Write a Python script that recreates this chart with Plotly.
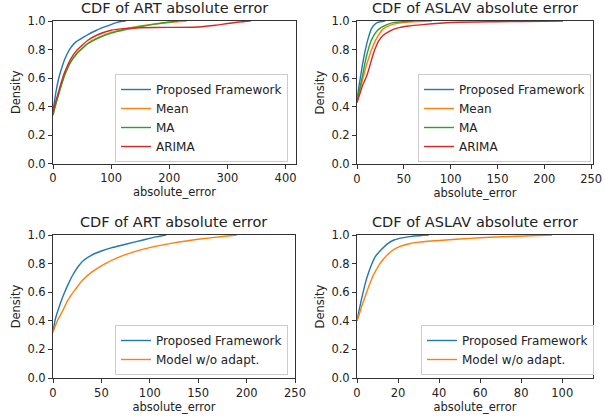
import plotly.graph_objects as go

# ---- data ----
# Top-left: CDF of ART absolute error
art_pf_x = [0, 5, 10, 15, 20, 30, 40, 50, 60, 75, 90, 100, 110, 120, 125]
art_pf_y = [0.37, 0.50, 0.60, 0.67, 0.73, 0.81, 0.855, 0.88, 0.905, 0.935, 0.96, 0.975, 0.99, 0.998, 1.0]
art_mean_x = [0, 5, 10, 15, 20, 30, 40, 50, 60, 75, 100, 125, 150, 175, 200, 230]
art_mean_y = [0.34, 0.42, 0.49, 0.56, 0.62, 0.71, 0.77, 0.81, 0.845, 0.88, 0.92, 0.945, 0.965, 0.98, 0.99, 1.0]
art_ma_x = [0, 5, 10, 15, 20, 30, 40, 50, 60, 75, 100, 125, 150, 175, 200, 215]
art_ma_y = [0.34, 0.42, 0.49, 0.56, 0.62, 0.71, 0.765, 0.805, 0.84, 0.875, 0.915, 0.94, 0.96, 0.978, 0.993, 1.0]
art_arima_x = [0, 5, 10, 15, 20, 30, 40, 50, 60, 75, 100, 125, 150, 200, 250, 280, 300, 320, 340]
art_arima_y = [0.36, 0.44, 0.51, 0.58, 0.64, 0.73, 0.79, 0.83, 0.865, 0.90, 0.935, 0.948, 0.953, 0.955, 0.958, 0.97, 0.982, 0.993, 1.0]

# Top-right: CDF of ASLAV absolute error
aslav_pf_x = [0, 1, 2, 3, 4, 6, 8, 10, 12, 15, 18, 22, 30]
aslav_pf_y = [0.43, 0.49, 0.54, 0.58, 0.62, 0.70, 0.77, 0.83, 0.88, 0.94, 0.97, 0.99, 1.0]
aslav_mean_x = [0, 2, 4, 6, 8, 10, 12, 15, 18, 22, 28, 35, 45, 60, 80]
aslav_mean_y = [0.43, 0.49, 0.54, 0.59, 0.64, 0.69, 0.73, 0.79, 0.84, 0.89, 0.945, 0.97, 0.985, 0.995, 1.0]
aslav_ma_x = [0, 2, 4, 6, 8, 10, 12, 15, 18, 22, 26, 32, 40, 60]
aslav_ma_y = [0.43, 0.50, 0.56, 0.62, 0.69, 0.75, 0.80, 0.86, 0.90, 0.935, 0.955, 0.975, 0.99, 1.0]
aslav_arima_x = [0, 2, 4, 6, 8, 10, 13, 16, 19, 23, 28, 35, 43, 55, 70, 100, 150, 200, 220]
aslav_arima_y = [0.43, 0.47, 0.51, 0.55, 0.58, 0.61, 0.67, 0.74, 0.80, 0.86, 0.90, 0.93, 0.95, 0.965, 0.975, 0.99, 0.995, 0.998, 1.0]

# Bottom-left: CDF of ART absolute error (ablation)
art2_pf_x = [0, 2, 5, 8, 12, 16, 20, 26, 32, 40, 50, 60, 75, 93, 105, 117]
art2_pf_y = [0.32, 0.40, 0.47, 0.53, 0.60, 0.66, 0.715, 0.78, 0.825, 0.86, 0.888, 0.91, 0.935, 0.965, 0.985, 1.0]
art2_noadapt_x = [0, 4.5, 10, 15, 21, 30, 40, 54, 70, 85, 100, 125, 150, 175, 190]
art2_noadapt_y = [0.32, 0.40, 0.47, 0.54, 0.60, 0.68, 0.74, 0.80, 0.85, 0.885, 0.912, 0.945, 0.97, 0.99, 1.0]

# Bottom-right: CDF of ASLAV absolute error (ablation)
aslav2_pf_x = [0, 1, 2, 3, 4, 5, 7, 9, 12, 15, 18, 22, 28, 35]
aslav2_pf_y = [0.40, 0.47, 0.54, 0.60, 0.66, 0.71, 0.79, 0.85, 0.90, 0.94, 0.965, 0.98, 0.993, 1.0]
aslav2_noadapt_x = [0, 1, 2, 3, 4.7, 6, 8, 11.2, 14, 17, 21, 25, 30, 40, 50, 60, 75, 95]
aslav2_noadapt_y = [0.40, 0.44, 0.49, 0.53, 0.60, 0.65, 0.72, 0.80, 0.85, 0.89, 0.92, 0.937, 0.95, 0.962, 0.972, 0.981, 0.99, 1.0]

titles = ["CDF of ART absolute error", "CDF of ASLAV absolute error",
          "CDF of ART absolute error", "CDF of ASLAV absolute error"]
x_ranges = [[0, 418], [0, 252], [0, 250], [0, 115]]
x_ticks = [[0, 100, 200, 300, 400], [0, 50, 100, 150, 200, 250],
           [0, 50, 100, 150, 200, 250], [0, 20, 40, 60, 80, 100]]
y_ticks = [0.0, 0.2, 0.4, 0.6, 0.8, 1.0]

C_BLUE, C_ORANGE, C_GREEN, C_RED = "#1f77b4", "#ff7f0e", "#2ca02c", "#d62728"

W, H = 605, 418
FONT = "DejaVu Sans, Liberation Sans, sans-serif"
TXT = "#222"

# panel pixel boxes (x0, x1, ytop, ybottom)
boxes = [(53, 296, 21, 163.5), (357, 593, 21, 164), (53, 295, 235, 378), (357, 593, 235, 378)]

fig = go.Figure()

panels = [
    [("Proposed Framework", art_pf_x, art_pf_y, C_BLUE),
     ("Mean", art_mean_x, art_mean_y, C_ORANGE),
     ("MA", art_ma_x, art_ma_y, C_GREEN),
     ("ARIMA", art_arima_x, art_arima_y, C_RED)],
    [("Proposed Framework", aslav_pf_x, aslav_pf_y, C_BLUE),
     ("Mean", aslav_mean_x, aslav_mean_y, C_ORANGE),
     ("MA", aslav_ma_x, aslav_ma_y, C_GREEN),
     ("ARIMA", aslav_arima_x, aslav_arima_y, C_RED)],
    [("Proposed Framework", art2_pf_x, art2_pf_y, C_BLUE),
     ("Model w/o adapt.", art2_noadapt_x, art2_noadapt_y, C_ORANGE)],
    [("Proposed Framework", aslav2_pf_x, aslav2_pf_y, C_BLUE),
     ("Model w/o adapt.", aslav2_noadapt_x, aslav2_noadapt_y, C_ORANGE)],
]

legend_pos = [(115 / W, 1 - 74 / H), (418 / W, 1 - 74 / H),
              (115 / W, 1 - 325 / H), (421 / W, 1 - 325 / H)]

layout = dict(
    width=W, height=H, margin=dict(l=0, r=0, t=0, b=0, autoexpand=False),
    paper_bgcolor="white", plot_bgcolor="white",
    font=dict(family=FONT, size=11.5, color=TXT),
    showlegend=True,
)
annotations = []

for i, (series, box) in enumerate(zip(panels, boxes)):
    n = "" if i == 0 else str(i + 1)
    leg = "legend" if i == 0 else f"legend{i + 1}"
    for name, xs, ys, col in series:
        fig.add_trace(go.Scatter(
            x=xs, y=ys, mode="lines", name=name,
            line=dict(color=col, width=1.4, shape="spline", smoothing=0.5),
            xaxis="x" + n, yaxis="y" + n, legend=leg,
        ))
    x0, x1, yt, yb = box
    axis_common = dict(showgrid=False, zeroline=False, showline=True, mirror=True,
                       linecolor="#333", linewidth=1, ticks="outside", ticklen=4,
                       tickcolor="#333", automargin=False,
                       tickfont=dict(size=11.5, family=FONT, color=TXT))
    layout["xaxis" + n] = dict(
        domain=[x0 / W, x1 / W], anchor="y" + n, range=x_ranges[i],
        tickvals=x_ticks[i], ticktext=[str(t) for t in x_ticks[i]],
        title=dict(text="absolute_error", font=dict(size=11.5, family=FONT, color=TXT), standoff=2),
        **axis_common)
    layout["yaxis" + n] = dict(
        domain=[1 - yb / H, 1 - yt / H], anchor="x" + n, range=[0, 1],
        tickvals=y_ticks, ticktext=[f"{t:.1f}" for t in y_ticks],
        title=dict(text="Density", font=dict(size=11.5, family=FONT, color=TXT), standoff=4),
        **axis_common)
    lx, ly = legend_pos[i]
    layout[leg] = dict(
        x=lx, y=ly, xanchor="left", yanchor="top",
        bgcolor="rgba(255,255,255,0.8)", bordercolor="#cccccc", borderwidth=1,
        font=dict(size=12, family=FONT, color=TXT), itemwidth=30,
        tracegroupgap=0,
    )
    annotations.append(dict(
        text=titles[i], x=(x0 + x1) / 2 / W, y=1 - (yt - 3) / H,
        xref="paper", yref="paper", xanchor="center", yanchor="bottom",
        showarrow=False, font=dict(size=14.5, family=FONT, color=TXT),
    ))

layout["annotations"] = annotations
fig.update_layout(**layout)
fig.write_html("out.html", config={"displayModeBar": False},
               post_script="document.body.style.margin='0px';")
